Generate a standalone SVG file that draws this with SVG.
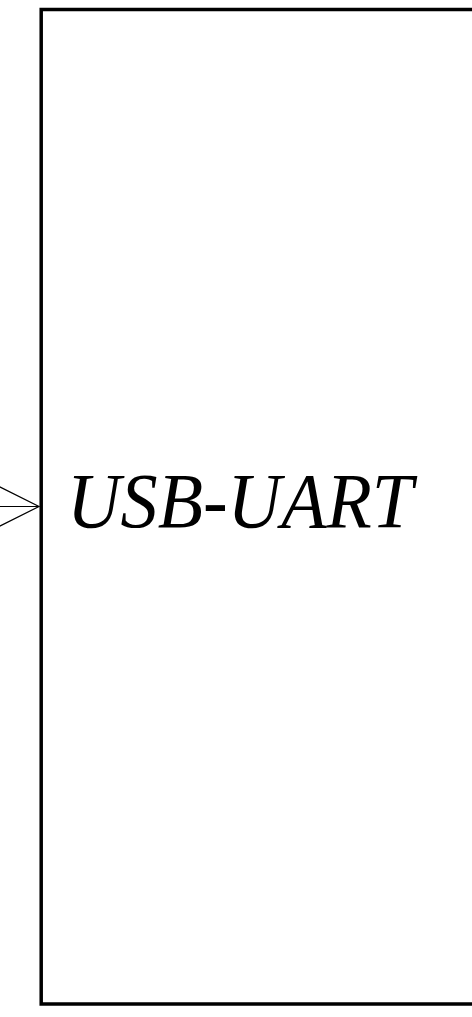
<svg xmlns="http://www.w3.org/2000/svg" width="472" height="1017" viewBox="0 0 472 1017">
<style>
.box{fill:#fff;stroke:#000;stroke-width:3.5}
.wire{fill:none;stroke:#000;stroke-width:1.2}
.lbl{font-family:"Liberation Serif",serif;font-style:italic;font-size:79px;fill:#000}
</style>
<rect width="472" height="1017" fill="#fff"/>
<g id="connectors">
<line class="wire" x1="-5" y1="506.5" x2="39" y2="506.5"/>
<polyline class="wire" points="-5,484.5 39,506.5 -5,528.5"/>
</g>
<g id="usb-uart">
<rect class="box" x="41.2" y="9.5" width="460" height="994.5"/>
<text class="lbl" x="67" y="527" textLength="346" lengthAdjust="spacingAndGlyphs">USB-UART</text>
</g>
</svg>
